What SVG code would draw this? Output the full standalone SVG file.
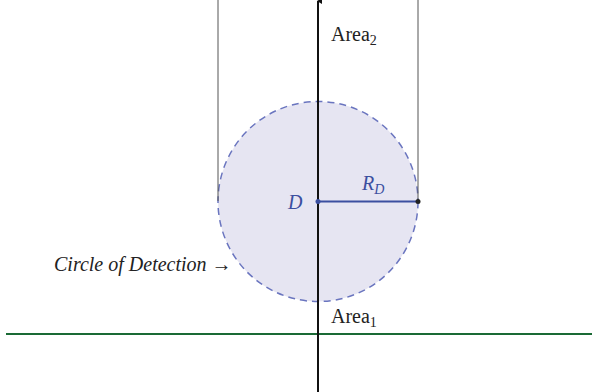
<svg xmlns="http://www.w3.org/2000/svg" width="592" height="392" viewBox="0 0 592 392">
<style>
text{font-family:"Liberation Serif","DejaVu Serif",serif;font-size:20px;fill:#222}
.blue{fill:#3b4fa0}
.it{font-style:italic}
.sub{font-size:14px}
.guide{stroke:#555;stroke-width:1;fill:none}
</style>
<defs>
<marker id="ah" viewBox="0 0 6 6" refX="3" refY="1" markerWidth="6" markerHeight="6" orient="auto-start-reverse" markerUnits="userSpaceOnUse">
<path d="M0,5 L3,0 L6,5 Z" fill="#111"/>
</marker>
</defs>
<g id="circle">
<circle cx="318" cy="201.5" r="100" fill="#e6e5f2" stroke="#6a75bf" stroke-width="1.5" stroke-dasharray="7,5"/>
</g>
<g id="connectors">
<line class="guide" x1="218" y1="0" x2="218" y2="201"/>
<line class="guide" x1="418" y1="0" x2="418" y2="201"/>
<line x1="6" y1="334" x2="592" y2="334" stroke="#1a6a35" stroke-width="2"/>
<line x1="318" y1="392" x2="318" y2="1" stroke="#111" stroke-width="2" marker-end="url(#ah)"/>
<line x1="318" y1="201.5" x2="418" y2="201.5" stroke="#3b4fa0" stroke-width="2"/>
<circle cx="318" cy="201.5" r="2.5" fill="#3b4fa0"/>
<circle cx="418" cy="201.5" r="2.5" fill="#222"/>
</g>
<g id="labels">
<text x="331" y="41">Area<tspan class="sub" dy="4">2</tspan></text>
<text x="331" y="323">Area<tspan class="sub" dy="4">1</tspan></text>
<text class="blue it" x="288" y="209">D</text>
<text class="blue it" x="362" y="190">R<tspan class="sub" dy="4">D</tspan></text>
<text class="it" x="54" y="271">Circle of Detection <tspan font-style="normal">→</tspan></text>
</g>
</svg>
